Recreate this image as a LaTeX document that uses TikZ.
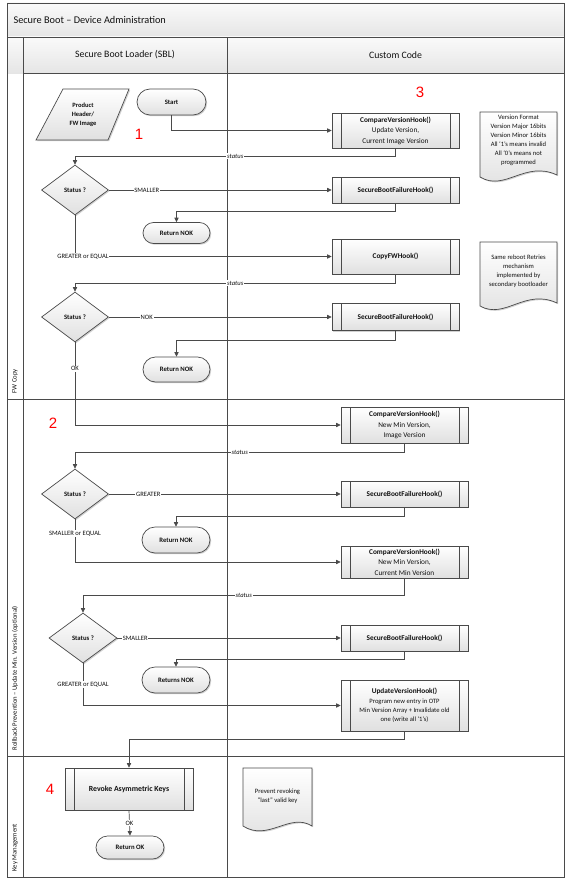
\documentclass[tikz,border=0pt]{standalone}
\usepackage{fontspec}
\setmainfont{Carlito}
\newfontfamily\redfont{Liberation Sans}
\usetikzlibrary{shapes.geometric,shapes.misc,arrows.meta,shadows}
\definecolor{ln}{HTML}{4A4A4A}
\definecolor{txt}{HTML}{111111}
\definecolor{shd}{HTML}{E0E0E0}
\tikzset{
  grid/.style={draw=ln, line width=0.8pt},
  shapebox/.style={draw=ln, line width=0.7pt, top color=white, bottom color=shd,
    drop shadow={shadow xshift=1.2pt, shadow yshift=-1.2pt, fill=black, opacity=0.18}},
  subproc/.style={shapebox, rectangle, inner sep=1pt, align=center, text=txt,
    path picture={\draw[ln, line width=0.7pt]
      ([xshift=9pt]path picture bounding box.north west) -- ([xshift=9pt]path picture bounding box.south west)
      ([xshift=-9pt]path picture bounding box.north east) -- ([xshift=-9pt]path picture bounding box.south east);}},
  term/.style={shapebox, rounded rectangle, inner sep=0pt, text=txt, font=\bfseries\fontsize{6.7}{8}\selectfont},
  dec/.style={shapebox, diamond, inner sep=0pt, minimum width=67pt, minimum height=50pt, text=txt, font=\bfseries\fontsize{6.7}{8}\selectfont},
  flow/.style={draw=ln, line width=0.7pt, -{Triangle[length=4.5pt,width=4.2pt]}},
  lbl/.style={fill=white, inner sep=0.8pt, text=txt, font=\fontsize{6.6}{7}\selectfont},
  st/.style={lbl, font=\itshape\fontsize{6.6}{7}\selectfont},
  notetext/.style={align=center, text=txt, font=\fontsize{6.6}{9}\selectfont},
  num/.style={text=red, font=\redfont\fontsize{15}{15}\selectfont},
  lane/.style={rotate=90, anchor=west, text=txt, font=\fontsize{6.7}{7}\selectfont},
  boxtxt/.style={font=\fontsize{7.3}{10.5}\selectfont},
}
\begin{document}
\begin{tikzpicture}[x=1pt,y=-1pt]
\useasboundingbox (0,0) rectangle (570,883);
% pool background and headers
\fill[white] (7,3) rectangle (564,877);
\shade[top color=black!2, bottom color=black!10] (7,3) rectangle (564,37);
\shade[top color=black!2, bottom color=black!10] (7,37) rectangle (564,73);
\draw[grid] (7,37) -- (564,37);
\draw[grid] (23,73) -- (564,73);
\draw[grid] (23,37) -- (23,877);
\draw[grid] (227,37) -- (227,877);
\draw[grid] (7,399) -- (564,399);
\draw[grid] (7,756) -- (564,756);
\draw[grid] (7,3) rectangle (564,877);
\node[anchor=west, text=txt, font=\fontsize{10.3}{12}\selectfont] (title) at (10,20) {Secure Boot -- Device Administration};
\node[text=txt, font=\fontsize{9.8}{11}\selectfont] (hsbl) at (125,55) {Secure Boot Loader (SBL)};
\node[text=txt, font=\fontsize{9.8}{11}\selectfont] (hcc) at (395.5,55) {Custom Code};
\node[lane] (lane1) at (15,397) {FW Copy};
\node[lane] (lane2) at (15,754) {Rollback Prevention -- Update Min. Version (optional)};
\node[lane] (lane3) at (15,875) {Key Management};

% red numbers
\node[num] (n1) at (139,134) {1};
\node[num] (n3) at (420,92) {3};
\node[num] (n2) at (53,423) {2};
\node[num] (n4) at (50,789) {4};

% product header parallelogram
\draw[shapebox] (63,89) -- (129,89) -- (108,140) -- (36,140) -- cycle;
\node[align=center, text=txt, font=\bfseries\fontsize{6.5}{9}\selectfont] (prod) at (83,115) {Product\\Header/\\FW Image};

% notes
\draw[shapebox] (480,112) -- (557,112) -- (557,175) .. controls (525,160) and (505,192) .. (480,177) -- cycle;
\node[notetext] (note1) at (518.5,140.5) {Version Format\\Version Major 16bits\\Version Minor 16bits\\All ‘1’s means invalid\\All ‘0’s means not\\programmed};
\draw[shapebox] (480,242) -- (557,242) -- (557,303) .. controls (525,288) and (505,320) .. (480,306) -- cycle;
\node[notetext] (note2) at (518.5,271) {Same reboot Retries\\mechanism\\implemented by\\secondary bootloader};
\draw[shapebox] (243,768) -- (312,768) -- (312,826) .. controls (290,812) and (268,842) .. (243,826) -- cycle;
\node[notetext] (note3) at (277.5,796) {Prevent revoking\\“last” valid key};

% lane 1 nodes
\node[term, minimum width=69pt, minimum height=26pt] (start) at (171.5,102) {Start};
\node[subproc, boxtxt, minimum width=127pt, minimum height=35pt] (cmp1) at (395.5,130.5) {\textbf{CompareVersionHook()}\\Update Version,\\Current Image Version};
\node[dec] (d1) at (75,190) {Status ?};
\node[subproc, boxtxt, minimum width=127pt, minimum height=26pt] (sbf1) at (395.5,190) {\textbf{SecureBootFailureHook()}};
\node[term, minimum width=67pt, minimum height=21pt] (nok1) at (176.5,233) {Return NOK};
\node[subproc, boxtxt, minimum width=127pt, minimum height=35pt] (copy) at (395.5,256.5) {\textbf{CopyFWHook()}};
\node[dec] (d2) at (75,317) {Status ?};
\node[subproc, boxtxt, minimum width=127pt, minimum height=27pt] (sbf2) at (395.5,317) {\textbf{SecureBootFailureHook()}};
\node[term, minimum width=67pt, minimum height=25pt] (nok2) at (176.5,369.5) {Return NOK};

% lane 2 nodes
\node[subproc, boxtxt, minimum width=127pt, minimum height=36pt] (cmp2) at (404.5,425) {\textbf{CompareVersionHook()}\\New Min Version,\\Image Version};
\node[dec] (d3) at (75,494) {Status ?};
\node[subproc, boxtxt, minimum width=127pt, minimum height=26pt] (sbf3) at (404.5,494) {\textbf{SecureBootFailureHook()}};
\node[term, minimum width=68pt, minimum height=26pt] (nok3) at (176,540) {Return NOK};
\node[subproc, boxtxt, minimum width=127pt, minimum height=32pt] (cmp3) at (404.5,562) {\textbf{CompareVersionHook()}\\New Min Version,\\Current Min Version};
\node[dec, minimum width=68pt] (d4) at (83,638) {Status ?};
\node[subproc, boxtxt, minimum width=127pt, minimum height=26pt] (sbf4) at (404.5,638) {\textbf{SecureBootFailureHook()}};
\node[term, minimum width=68pt, minimum height=26pt] (nok4) at (176,680) {Returns NOK};
\node[subproc, minimum width=127pt, minimum height=51pt, font=\fontsize{6.6}{9.4}\selectfont] (upd) at (404.5,705.5) {{\fontsize{7.3}{9.4}\selectfont\textbf{UpdateVersionHook()}}\\Program new entry in OTP\\Min Version Array + Invalidate old\\one (write all ‘1’s)};

% lane 3 nodes
\node[subproc, minimum width=128pt, minimum height=42pt, font=\bfseries\fontsize{7.8}{9}\selectfont] (revoke) at (129,789) {Revoke Asymmetric Keys};
\node[term, minimum width=68pt, minimum height=23pt] (retok) at (130,847.5) {Return OK};

% connectors lane 1
\draw[flow] (start.south) |- (cmp1.west);
\draw[flow] (cmp1.south) -- ++(0,8) -| node[st, pos=0.25] {status} (d1.north);
\draw[flow] (d1.east) -- node[lbl, pos=0.17] {SMALLER} (sbf1.west);
\draw[flow] (sbf1.south) -- ++(0,8) -| (nok1.north);
\draw[flow] (d1.south) |- node[lbl, pos=0.5, xshift=8pt] {GREATER or EQUAL} (copy.west);
\draw[flow] (copy.south) -- ++(0,9) -| node[st, pos=0.25] {status} (d2.north);
\draw[flow] (d2.east) -- node[lbl, pos=0.17] {NOK} (sbf2.west);
\draw[flow] (sbf2.south) -- ++(0,9) -| (nok2.north);
\draw[flow] (d2.south) |- node[lbl, pos=0.16] {OK} (cmp2.west);

% connectors lane 2
\draw[flow] (cmp2.south) -- ++(0,9) -| node[st, pos=0.25] {status} (d3.north);
\draw[flow] (d3.east) -- node[lbl, pos=0.17] {GREATER} (sbf3.west);
\draw[flow] (sbf3.south) -- ++(0,9) -| (nok3.north);
\draw[flow] (d3.south) |- node[lbl, pos=0.17] {SMALLER or EQUAL} (cmp3.west);
\draw[flow] (cmp3.south) -- ++(0,17) -| node[st, pos=0.25] {status} (d4.north);
\draw[flow] (d4.east) -- node[lbl, pos=0.08] {SMALLER} (sbf4.west);
\draw[flow] (sbf4.south) -- ++(0,8) -| (nok4.north);
\draw[flow] (d4.south) |- node[lbl, pos=0.25] {GREATER or EQUAL} (upd.west);
\draw[flow] (upd.south) -- ++(0,8) -| (revoke.north);

% connectors lane 3
\draw[flow] (revoke.south) -- node[lbl, midway] {OK} (retok.north);
\end{tikzpicture}
\end{document}
